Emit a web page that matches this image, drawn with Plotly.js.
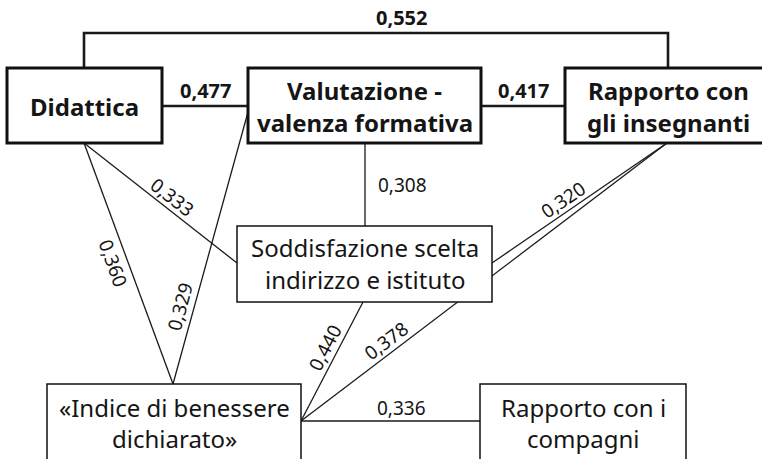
<!DOCTYPE html>
<html>
<head>
<meta charset="utf-8">
<script src="https://cdn.plot.ly/plotly-3.0.1.min.js"></script>
<style>html,body{margin:0;padding:0;background:#fff;}#chart{width:762px;height:459px;}</style>
</head>
<body>
<div id="chart"></div>
<script>
// ---- data ----
const nodeNames = ["Didattica", "Valutazione -|valenza formativa", "Rapporto con|gli insegnanti",
                   "Soddisfazione scelta|indirizzo e istituto", "«Indice di benessere|dichiarato»", "Rapporto con i|compagni"];
const edgeFrom = [0, 0, 1, 1, 0, 0, 1, 2, 2, 3, 4];
const edgeTo   = [2, 1, 2, 3, 3, 4, 4, 3, 4, 4, 5];
const edgeCoef = [0.552, 0.477, 0.417, 0.308, 0.333, 0.360, 0.329, 0.320, 0.378, 0.440, 0.336];

// ---- layout geometry ----
const FONT = "Noto Sans, sans-serif";
const boxes = [
  {x0:7,   y0:68,  x1:162, y1:143, bold:true,  ys:[106]},
  {x0:248, y0:68,  x1:481, y1:143, bold:true,  ys:[90,122]},
  {x0:565, y0:68,  x1:766, y1:143, bold:true,  ys:[90,122], cx:668},
  {x0:237, y0:226, x1:492, y1:302, bold:false, ys:[247,279]},
  {x0:47,  y0:384, x1:301, y1:470, bold:false, ys:[407,438]},
  {x0:480, y0:384, x1:686, y1:470, bold:false, ys:[407,438]}
];
const edgePaths = [
  [[84,68],[84,33],[668,33],[668,68]],
  [[162,106],[248,106]],
  [[481,106],[565,106]],
  [[365,143],[365,226]],
  [[84,143],[237,263]],
  [[84,143],[173,384]],
  [[248,112],[173,384]],
  [[667,143],[492,263]],
  [[667,143],[301,421]],
  [[363,302],[301,421]],
  [[301,421],[480,421]]
];
const edgeLabelPos = [
  [401,17,0],[205,90,0],[523,90,0],[402,185,0],[172,197,38],[113,263,70],
  [180,307,-75],[563,200,-34],[386,341,-37],[325,348,-63],[401,408,0]
];

const traces = edgePaths.map((p, i) => {
  const bold = boxes[edgeFrom[i]].bold && boxes[edgeTo[i]].bold;
  return {
    type: 'scatter', mode: 'lines',
    x: p.map(q => q[0]), y: p.map(q => q[1]),
    line: {color: '#1a1a1a', width: bold ? 2.6 : 1.3},
    hoverinfo: 'skip', showlegend: false
  };
});

const shapes = boxes.map(b => ({
  type: 'rect', xref: 'x', yref: 'y', x0: b.x0, y0: b.y0, x1: b.x1, y1: b.y1,
  line: {color: '#111', width: b.bold ? 3 : 1.5}, fillcolor: '#fff', layer: 'above'
}));

const annotations = [];
nodeNames.forEach((name, i) => {
  const b = boxes[i];
  const lines = name.split('|');
  const cx = b.cx !== undefined ? b.cx : (b.x0 + b.x1) / 2;
  lines.forEach((t, j) => {
    annotations.push({
      x: cx, y: b.ys[j], xref: 'x', yref: 'y', showarrow: false,
      text: b.bold ? '<b>' + t + '</b>' : t,
      xanchor: 'center', yanchor: 'middle',
      font: {family: FONT, size: 24, color: '#151515'}
    });
  });
});
edgeCoef.forEach((c, i) => {
  const bold = boxes[edgeFrom[i]].bold && boxes[edgeTo[i]].bold;
  const s = c.toFixed(3).replace('.', ',');
  const p = edgeLabelPos[i];
  annotations.push({
    x: p[0], y: p[1], xref: 'x', yref: 'y', showarrow: false,
    text: bold ? '<b>' + s + '</b>' : s, textangle: p[2],
    xanchor: 'center', yanchor: 'middle',
    font: {family: FONT, size: bold ? 20 : 19, color: '#151515'}
  });
});

const layout = {
  width: 762, height: 459,
  margin: {l: 0, r: 0, t: 0, b: 0},
  paper_bgcolor: '#fff', plot_bgcolor: '#fff',
  xaxis: {range: [0, 762], visible: false, fixedrange: true},
  yaxis: {range: [459, 0], visible: false, fixedrange: true},
  shapes: shapes, annotations: annotations, showlegend: false
};
Plotly.newPlot('chart', traces, layout, {staticPlot: true, displayModeBar: false});
</script>
</body>
</html>
